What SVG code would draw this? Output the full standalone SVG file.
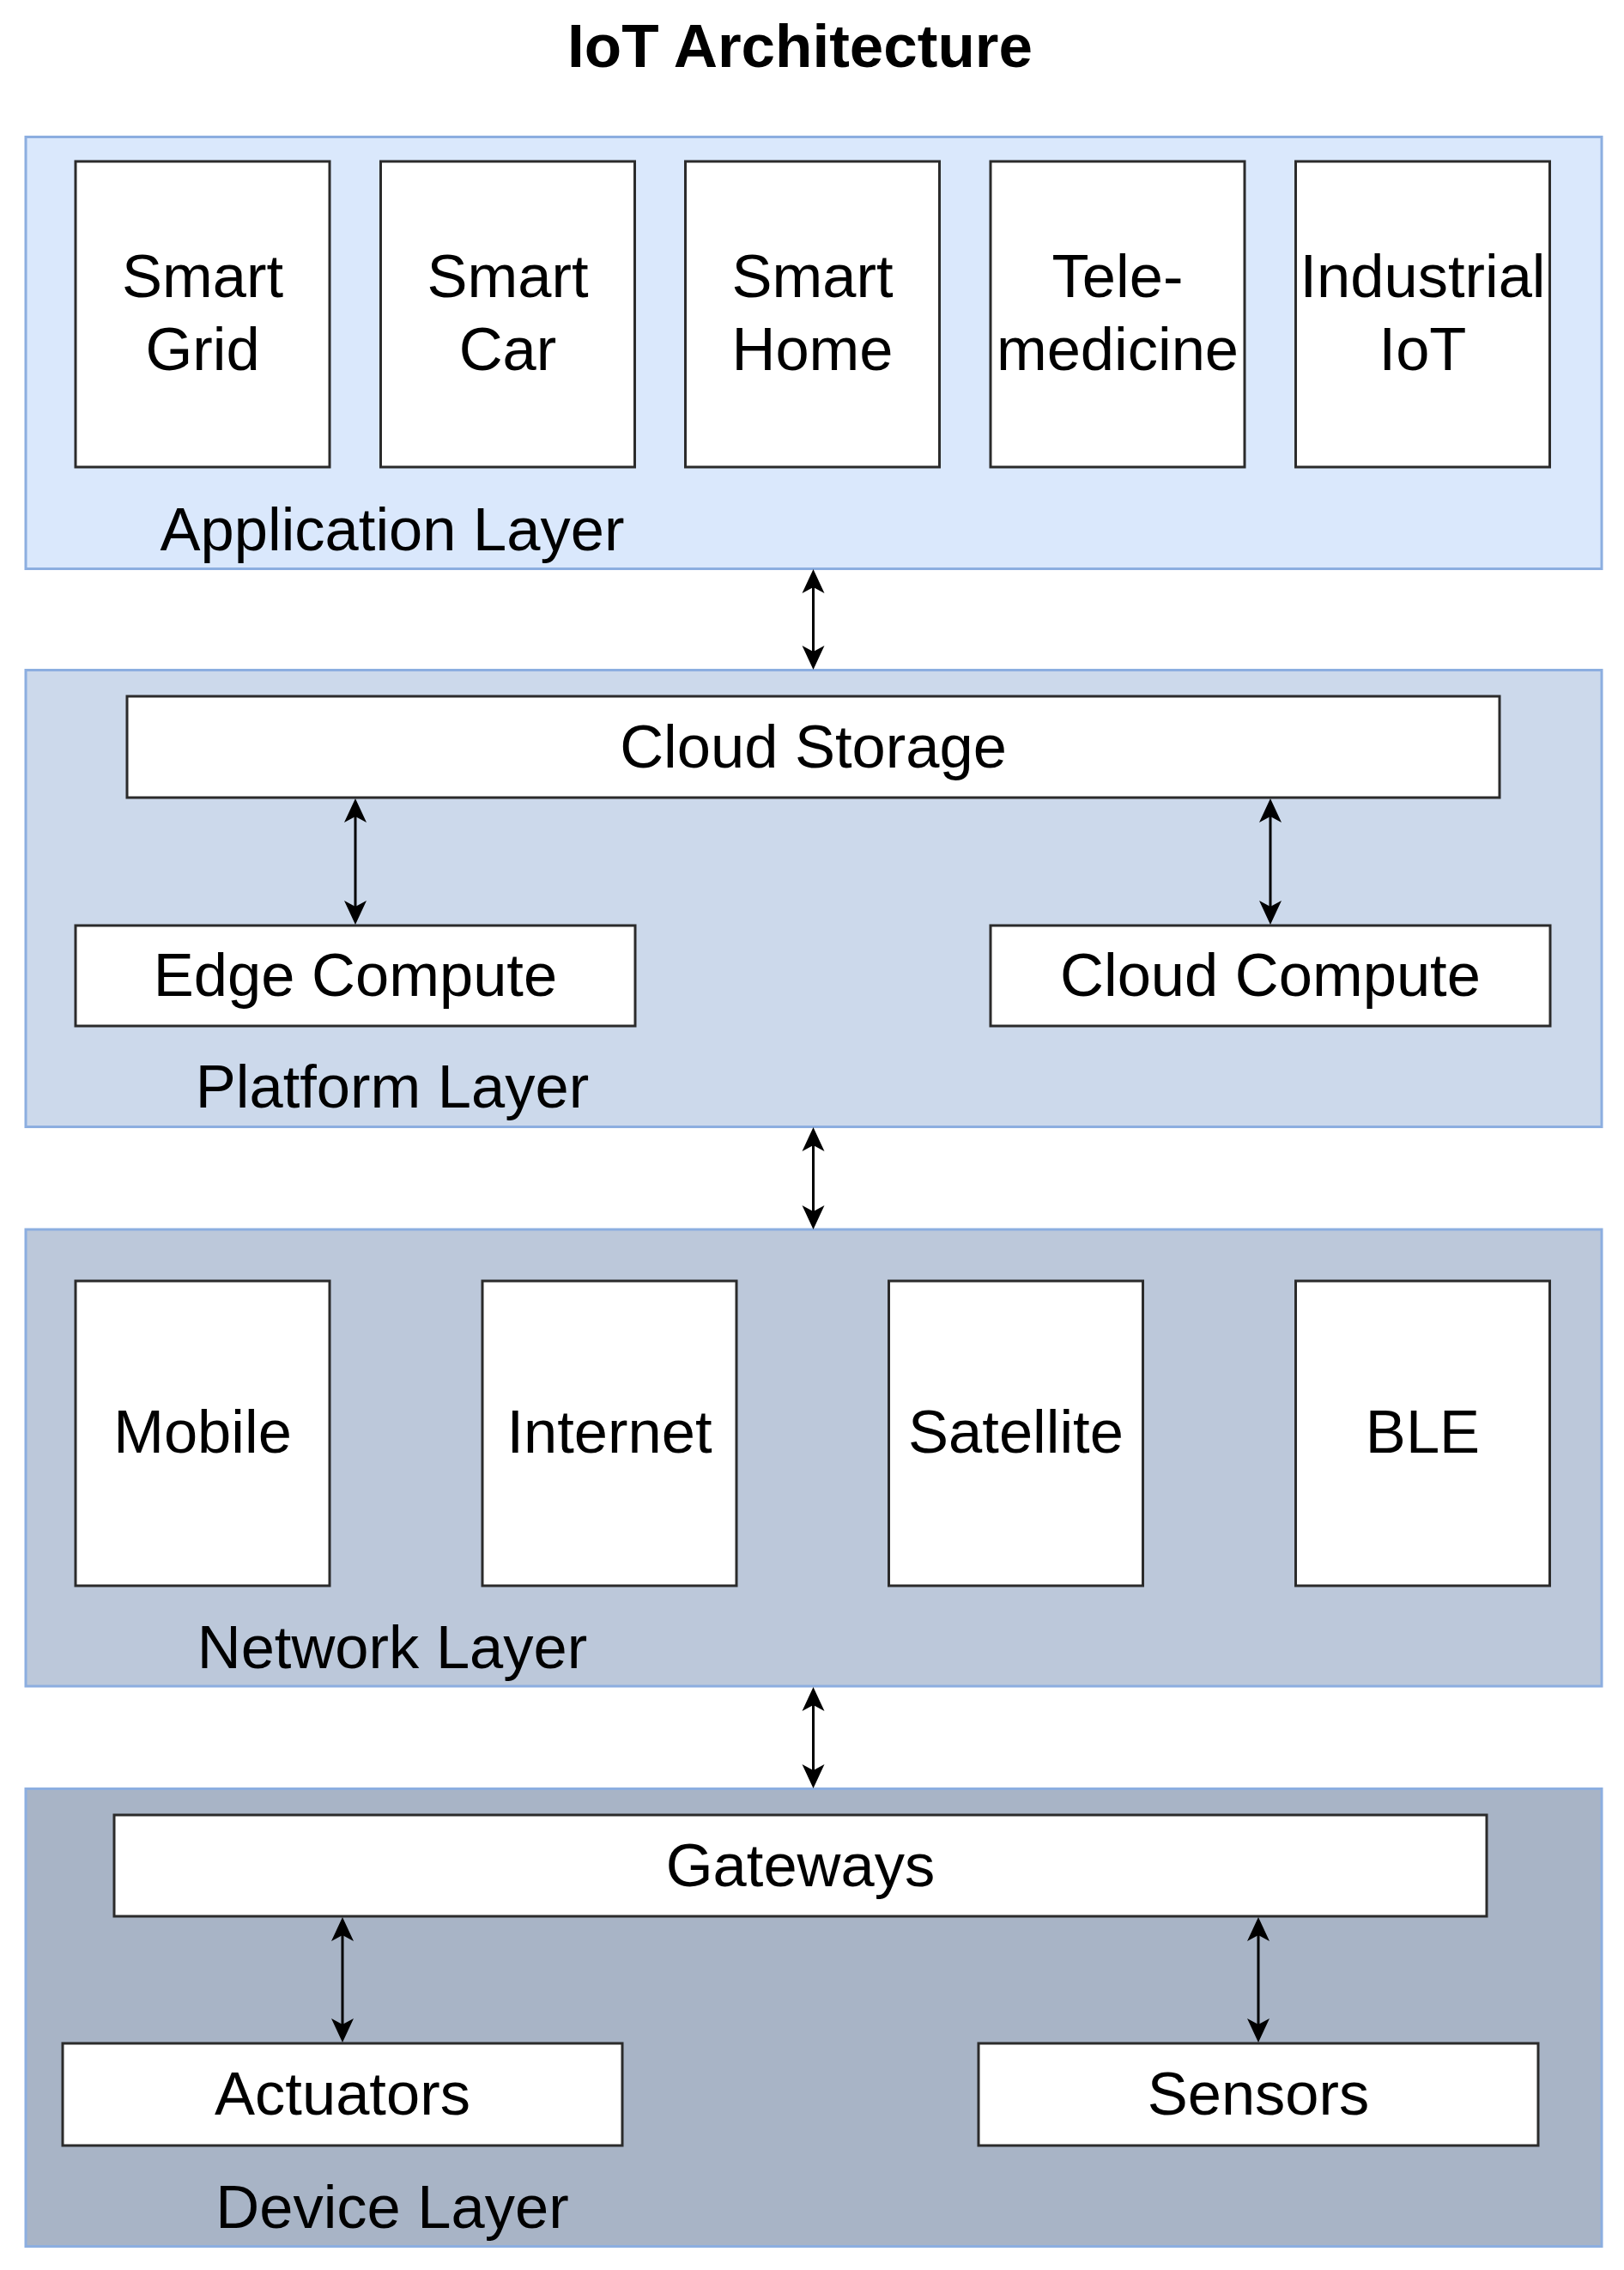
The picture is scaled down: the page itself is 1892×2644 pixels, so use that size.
<svg xmlns="http://www.w3.org/2000/svg" width="1892" height="2644" viewBox="0 0 1892 2644">
  <style>
    .layer { stroke: #8caee0; stroke-width: 3; }
    .app { fill: #dae8fc; }
    .plat { fill: #ccd9eb; }
    .net { fill: #bcc8da; }
    .dev { fill: #a8b4c6; }
    .box { fill: #ffffff; stroke: #2b2b2b; stroke-width: 3; }
    .t { font-family: "Liberation Sans", Arial, sans-serif; font-size: 70.5px; fill: #000000; text-anchor: middle; }
    .title { font-family: "Liberation Sans", Arial, sans-serif; font-size: 71px; font-weight: bold; fill: #000000; text-anchor: middle; }
    .conn { stroke: #000000; stroke-width: 3; fill: none; marker-start: url(#ah); marker-end: url(#ah); }
  </style>
  <defs>
    <marker id="ah" viewBox="0 -14 28 28" refX="20" refY="0" markerWidth="28" markerHeight="28" markerUnits="userSpaceOnUse" orient="auto-start-reverse">
      <path d="M0,-13 L28,0 L0,13 L7,0 Z" fill="#000000"/>
    </marker>
  </defs>
  <rect width="1892" height="2644" fill="#ffffff"/>

  <text class="title" x="932" y="78">IoT Architecture</text>

  <g id="application-layer">
    <rect class="layer app" x="30" y="159.5" width="1836" height="503"/>
    <text class="t" x="457" y="641">Application Layer</text>
  </g>
  <g id="smart-grid">
    <rect class="box" x="88" y="188" width="296" height="356"/>
    <text class="t" x="236" y="346">Smart</text>
    <text class="t" x="236" y="431">Grid</text>
  </g>
  <g id="smart-car">
    <rect class="box" x="443.5" y="188" width="296" height="356"/>
    <text class="t" x="591.5" y="346">Smart</text>
    <text class="t" x="591.5" y="431">Car</text>
  </g>
  <g id="smart-home">
    <rect class="box" x="798.5" y="188" width="296" height="356"/>
    <text class="t" x="946.5" y="346">Smart</text>
    <text class="t" x="946.5" y="431">Home</text>
  </g>
  <g id="telemedicine">
    <rect class="box" x="1154" y="188" width="296" height="356"/>
    <text class="t" x="1302" y="346">Tele-</text>
    <text class="t" x="1302" y="431">medicine</text>
  </g>
  <g id="industrial-iot">
    <rect class="box" x="1509.5" y="188" width="296" height="356"/>
    <text class="t" x="1657.5" y="346">Industrial</text>
    <text class="t" x="1657.5" y="431">IoT</text>
  </g>

  <g id="platform-layer">
    <rect class="layer plat" x="30" y="780.5" width="1836" height="532"/>
    <text class="t" x="457" y="1290">Platform Layer</text>
  </g>
  <g id="cloud-storage">
    <rect class="box" x="148" y="811" width="1599" height="118"/>
    <text class="t" x="947.5" y="894">Cloud Storage</text>
  </g>
  <g id="edge-compute">
    <rect class="box" x="88" y="1078" width="652" height="117"/>
    <text class="t" x="414" y="1160">Edge Compute</text>
  </g>
  <g id="cloud-compute">
    <rect class="box" x="1154" y="1078" width="652" height="117"/>
    <text class="t" x="1480" y="1160">Cloud Compute</text>
  </g>

  <g id="network-layer">
    <rect class="layer net" x="30" y="1432" width="1836" height="532"/>
    <text class="t" x="457" y="1943">Network Layer</text>
  </g>
  <g id="mobile">
    <rect class="box" x="88" y="1492" width="296" height="355"/>
    <text class="t" x="236" y="1692">Mobile</text>
  </g>
  <g id="internet">
    <rect class="box" x="562" y="1492" width="296" height="355"/>
    <text class="t" x="710" y="1692">Internet</text>
  </g>
  <g id="satellite">
    <rect class="box" x="1035.5" y="1492" width="296" height="355"/>
    <text class="t" x="1183.5" y="1692">Satellite</text>
  </g>
  <g id="ble">
    <rect class="box" x="1509.5" y="1492" width="296" height="355"/>
    <text class="t" x="1657.5" y="1692">BLE</text>
  </g>

  <g id="device-layer">
    <rect class="layer dev" x="30" y="2083.5" width="1836" height="533"/>
    <text class="t" x="457" y="2595">Device Layer</text>
  </g>
  <g id="gateways">
    <rect class="box" x="133" y="2114" width="1599" height="118"/>
    <text class="t" x="932.5" y="2197">Gateways</text>
  </g>
  <g id="actuators">
    <rect class="box" x="73" y="2380" width="652" height="119"/>
    <text class="t" x="399" y="2463">Actuators</text>
  </g>
  <g id="sensors">
    <rect class="box" x="1140" y="2380" width="652" height="119"/>
    <text class="t" x="1466" y="2463">Sensors</text>
  </g>

  <g id="connectors">
    <line class="conn" x1="947.5" y1="671" x2="947.5" y2="772"/>
    <line class="conn" x1="947.5" y1="1321" x2="947.5" y2="1424"/>
    <line class="conn" x1="947.5" y1="1973" x2="947.5" y2="2075"/>
    <line class="conn" x1="414" y1="938" x2="414" y2="1069"/>
    <line class="conn" x1="1480" y1="938" x2="1480" y2="1069"/>
    <line class="conn" x1="399" y1="2241" x2="399" y2="2371"/>
    <line class="conn" x1="1466" y1="2241" x2="1466" y2="2371"/>
  </g>
</svg>
